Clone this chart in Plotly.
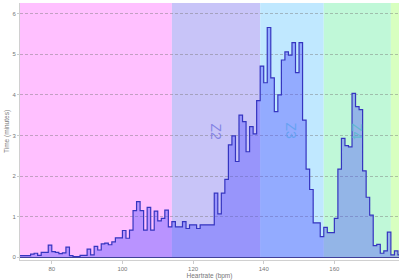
import plotly.graph_objects as go

# Histogram bins (bpm, 1-bpm wide) and time in minutes
bpm_bins = list(range(71, 179))
minutes = [
    0.04, 0.04, 0.04, 0.08, 0.10, 0.05, 0.12, 0.12, 0.30, 0.14,   # 71-80
    0.12, 0.09, 0.11, 0.25, 0.04, 0.02, 0.02, 0.05, 0.05, 0.20,   # 81-90
    0.06, 0.27, 0.18, 0.33, 0.35, 0.31, 0.38, 0.48, 0.48, 0.66,   # 91-100
    0.47, 0.67, 1.15, 1.37, 1.15, 0.67, 1.23, 0.67, 1.14, 0.90,   # 101-110
    0.96, 1.16, 0.75, 0.88, 0.75, 0.75, 0.88, 0.71, 0.80, 0.80,   # 111-120
    0.71, 0.80, 0.80, 0.80, 0.80, 1.58, 1.07, 1.58, 1.92, 2.77,   # 121-130
    2.99, 2.36, 3.50, 3.34, 2.60, 3.22, 3.04, 3.86, 4.71, 4.30,   # 131-140
    5.66, 4.42, 3.59, 4.00, 4.86, 5.06, 4.98, 5.29, 4.55, 5.29,   # 141-150
    3.38, 2.17, 1.67, 0.85, 0.85, 0.51, 0.74, 0.61, 0.61, 0.96,   # 151-160
    2.17, 2.93, 2.75, 2.72, 4.04, 3.71, 3.64, 2.13, 1.48, 1.04,   # 161-170
    0.29, 0.32, 0.10, 0.16, 0.62, 0.06, 0.16, 0.06,               # 171-178
]

# Heart-rate zones
zone_names = ["Z1", "Z2", "Z3", "Z4", "Z5"]
zone_bounds = [60, 114, 139, 157, 176, 190]
zone_colors = ["#ffc0ff", "#c8c4f8", "#c0e8ff", "#c0f8d8", "#d8ffc0"]
zone_label_colors = [None, "rgba(120,120,225,0.85)", "rgba(95,160,240,0.85)",
                     "rgba(90,185,205,0.85)", None]

y_ticks = [0, 1, 2, 3, 4, 5, 6]
x_ticks = [80, 100, 120, 140, 160]

x_steps = bpm_bins + [bpm_bins[-1] + 1]
y_steps = minutes + [minutes[-1]]

fig = go.Figure()
fig.add_trace(go.Scatter(
    x=x_steps, y=y_steps, mode="lines", line_shape="hv",
    line=dict(color="#3535c0", width=1.2),
    fill="tozeroy", fillcolor="rgba(80,80,255,0.40)",
    hoverinfo="skip", showlegend=False,
))

shapes = []
annotations = []
for i, name in enumerate(zone_names):
    shapes.append(dict(type="rect", xref="x", yref="y",
                       x0=zone_bounds[i], x1=zone_bounds[i + 1], y0=0, y1=7,
                       fillcolor=zone_colors[i], line=dict(width=0), layer="below"))
    if zone_label_colors[i]:
        annotations.append(dict(
            x=(zone_bounds[i] + zone_bounds[i + 1]) / 2, y=0.5,
            xref="x", yref="paper", text=name, showarrow=False, textangle=90,
            font=dict(family="Liberation Sans", size=14, color=zone_label_colors[i]),
        ))

fig.update_layout(
    width=400, height=280,
    margin=dict(l=20, r=1, t=3, b=20),
    paper_bgcolor="white", plot_bgcolor="white",
    shapes=shapes, annotations=annotations,
    font=dict(family="Liberation Sans", size=6, color="#777777"),
    xaxis=dict(
        range=[71, 178.3], tickvals=x_ticks, ticks="outside", ticklen=3,
        tickcolor="#cccccc", showgrid=False, zeroline=False,
        showline=True, linecolor="#d0d0d0", linewidth=1,
        title=dict(text="Heartrate (bpm)", standoff=2, font=dict(size=6.5, color="#777777")),
        tickfont=dict(size=6, color="#777777"),
    ),
    yaxis=dict(
        range=[-0.066, 6.264], tickvals=y_ticks, ticks="outside", ticklen=2,
        tickcolor="#cccccc", showgrid=True, gridcolor="rgba(120,120,120,0.45)",
        griddash="3px,2px", gridwidth=1,
        zeroline=True, zerolinecolor="#404090", zerolinewidth=1,
        showline=True, linecolor="#d0d0d0", linewidth=1,
        title=dict(text="Time (minutes)", standoff=2, font=dict(size=6.5, color="#777777")),
        tickfont=dict(size=6, color="#777777"),
    ),
)

fig.write_html("out.html")
